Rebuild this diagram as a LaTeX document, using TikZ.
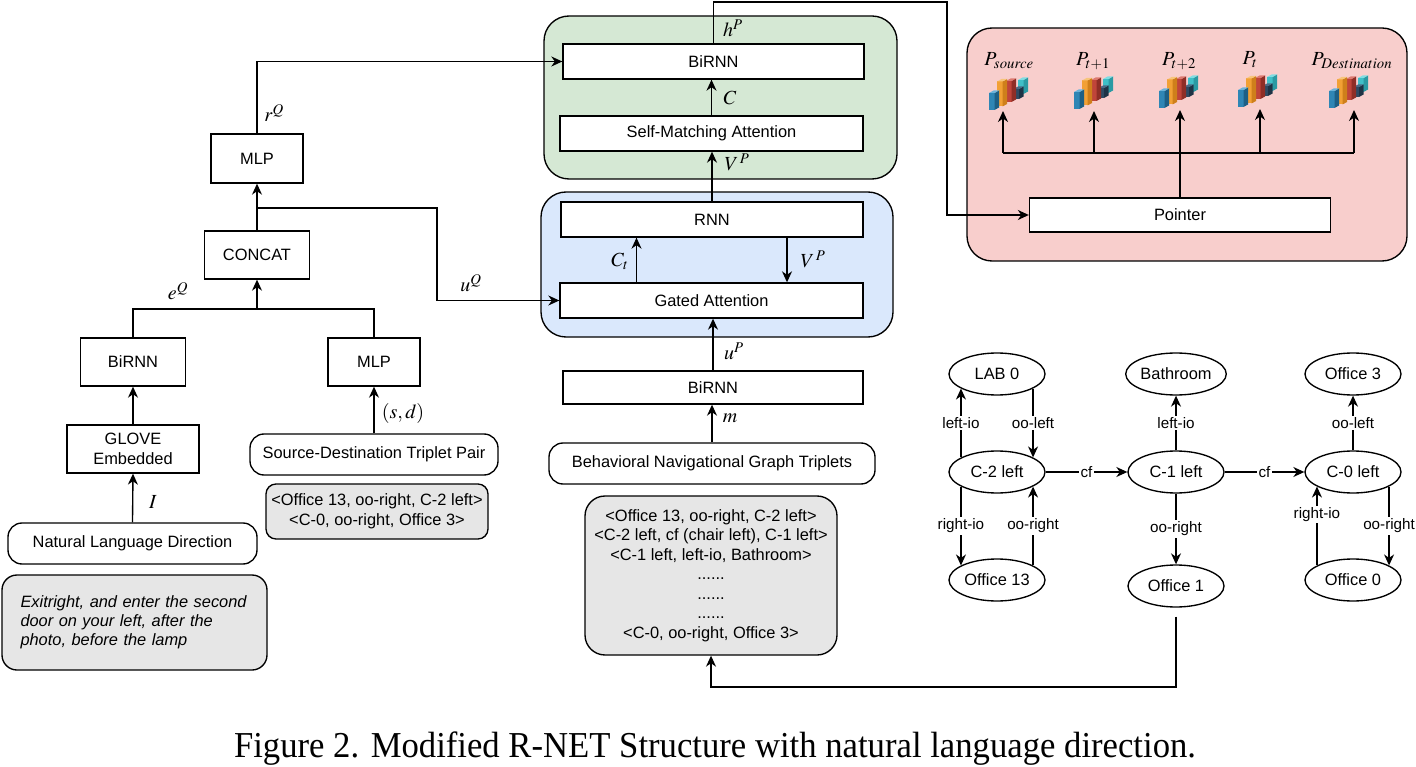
\documentclass[tikz,border=0pt]{standalone}
\usepackage{mathptmx}
\usepackage{fontspec}
\setmainfont{Liberation Sans}
\newfontfamily\capfont{Liberation Serif}
\usetikzlibrary{arrows.meta,shapes.geometric,calc}
\definecolor{gfill}{HTML}{D5E8D4}
\definecolor{bfill}{HTML}{DAE8FC}
\definecolor{pfill}{HTML}{F8CECC}
\definecolor{grayfill}{HTML}{E6E6E6}
\definecolor{tealF}{HTML}{3FBFC7}\definecolor{tealS}{HTML}{2A9AA3}\definecolor{tealT}{HTML}{7FDDE2}
\definecolor{navyF}{HTML}{2E4A62}\definecolor{navyS}{HTML}{1E3345}\definecolor{navyT}{HTML}{4A6A85}
\definecolor{redF}{HTML}{C0453A}\definecolor{redS}{HTML}{8F2E26}\definecolor{redT}{HTML}{DD7A70}
\definecolor{orF}{HTML}{F2A035}\definecolor{orS}{HTML}{CF7F1B}\definecolor{orT}{HTML}{F7C57A}
\definecolor{blF}{HTML}{2F86B5}\definecolor{blS}{HTML}{1D5F85}\definecolor{blT}{HTML}{6DB3D9}
\newcommand\icbar[6]{%
  \fill[#4] ({#1},{#2}) rectangle ({#1+5.5},{#2-#3});
  \fill[#5] ({#1+5.5},{#2}) -- ({#1+10},{#2-2.5}) -- ({#1+10},{#2-2.5-#3}) -- ({#1+5.5},{#2-#3}) -- cycle;
  \fill[#6] ({#1},{#2-#3}) -- ({#1+5.5},{#2-#3}) -- ({#1+10},{#2-#3-2.5}) -- ({#1+4.5},{#2-#3-2.5}) -- cycle;
}
\tikzset{
  every node/.style={font=\fontsize{16.4}{19.5}\selectfont},
  box/.style={draw, fill=white, line width=1.35pt, inner sep=0pt, align=center},
  rbox/.style={box, rounded corners=14pt},
  gbox/.style={draw, fill=grayfill, line width=1.35pt, inner sep=0pt, align=center},
  cont/.style={draw, line width=1.35pt, rounded corners=25pt, inner sep=0pt},
  ell/.style={draw, ellipse, line width=1.35pt, minimum width=96pt, minimum height=42pt, inner sep=0pt},
  arr/.style={line width=1.35pt, -{Stealth[length=11pt,width=10pt,inset=3.5pt]}},
  ln/.style={line width=1.35pt},
  lab/.style={font=\fontsize{20}{23}\selectfont, inner sep=0pt},
  plab/.style={font=\fontsize{20}{23}\selectfont, inner sep=0pt},
  elab/.style={font=\fontsize{15.2}{18}\selectfont, fill=white, inner sep=1.5pt},
  pics/barchart/.style={code={
    \icbar{29}{-18}{14}{tealF}{tealS}{tealT}
    \icbar{24.5}{-13}{10}{navyF}{navyS}{navyT}
    \icbar{17}{-10}{21}{redF}{redS}{redT}
    \icbar{8}{-5.5}{25}{orF}{orS}{orT}
    \icbar{0}{-2}{17}{blF}{blS}{blT}
  }}
}
\begin{document}
\begin{tikzpicture}[x=1pt,y=-1pt]
\useasboundingbox (0,0) rectangle (1416,767);
% containers
\node[cont, fill=gfill, minimum width=353pt, minimum height=163pt] (green) at (720.5,97.5) {};
\node[cont, fill=bfill, minimum width=352pt, minimum height=145pt] (blue) at (717,264.5) {};
\node[cont, fill=pfill, minimum width=440pt, minimum height=233pt] (pink) at (1187,144.5) {};
% left column
\node[gbox, rounded corners=15pt, minimum width=265pt, minimum height=95pt, text width=228pt, align=left, font=\fontsize{16.4}{19}\selectfont\itshape] (ital) at (134.5,622.5) {Exitright, and enter the second\\door on your left, after the\\photo, before the lamp};
\node[rbox, minimum width=249pt, minimum height=41pt] (nld) at (132.5,543.5) {Natural Language Direction};
\node[box, minimum width=132pt, minimum height=48pt] (glove) at (133,449) {GLOVE\\Embedded};
\node[box, minimum width=105pt, minimum height=48pt] (birnnL) at (133,362) {BiRNN};
\node[box, minimum width=92pt, minimum height=48pt] (mlpR) at (374,362) {MLP};
\node[rbox, minimum width=248pt, minimum height=41pt] (sdtp) at (374,454.5) {Source-Destination Triplet Pair};
\node[gbox, rounded corners=10pt, minimum width=222pt, minimum height=55pt, font=\fontsize{16.4}{20}\selectfont] (sdg) at (377,511.5) {<Office 13, oo-right, C-2 left>\\<C-0, oo-right, Office 3>};
\node[box, minimum width=105pt, minimum height=48pt] (concat) at (257,255) {CONCAT};
\node[box, minimum width=92pt, minimum height=49pt] (mlpT) at (257,158.5) {MLP};
% middle column
\node[box, minimum width=301pt, minimum height=35pt] (birnnT) at (713.5,61.5) {BiRNN};
\node[box, minimum width=303pt, minimum height=35pt] (selfm) at (711.5,133.5) {Self-Matching Attention};
\node[box, minimum width=302pt, minimum height=35pt] (rnn) at (712,219.5) {RNN};
\node[box, minimum width=303pt, minimum height=35pt] (gated) at (711.5,300.5) {Gated Attention};
\node[box, minimum width=300pt, minimum height=33pt] (birnnM) at (713,387.5) {BiRNN};
\node[rbox, minimum width=326pt, minimum height=41pt] (bngt) at (712,463.5) {Behavioral Navigational Graph Triplets};
\node[gbox, rounded corners=20pt, minimum width=252pt, minimum height=159pt] (trip) at (711,575.5) {<Office 13, oo-right, C-2 left>\\<C-2 left, cf (chair left), C-1 left>\\<C-1 left, left-io, Bathroom>\\......\\......\\......\\<C-0, oo-right, Office 3>};
% pointer
\node[box, minimum width=301pt, minimum height=34pt] (ptr) at (1180,215) {Pointer};
\pic at (989,112) {barchart};
\pic at (1074,111) {barchart};
\pic at (1159,110) {barchart};
\pic at (1238,109) {barchart};
\pic at (1329,110) {barchart};
\coordinate (ic1) at (1003,111);
\coordinate (ic2) at (1094,111);
\coordinate (ic3) at (1180,110);
\coordinate (ic4) at (1260,109);
\coordinate (ic5) at (1354,110);
\coordinate (jn) at (1180,153);
\node[plab] (l1) at (1009,61) {$P_{source}$};
\node[plab] (l2) at (1093,61) {$P_{t+1}$};
\node[plab] (l3) at (1179,61) {$P_{t+2}$};
\node[plab] (l4) at (1250,60) {$P_{t}$};
\node[plab] (l5) at (1352,61) {$P_{Destination}$};
\draw[ln] (ptr.north) -- (jn);
\draw[ln] (jn -| ic1) -- (jn -| ic5);
\draw[arr] (jn) -- (ic3);
\draw[arr] (jn -| ic1) -- (ic1);
\draw[arr] (jn -| ic2) -- (ic2);
\draw[arr] (jn -| ic4) -- (ic4);
\draw[arr] (jn -| ic5) -- (ic5);
% graph
\node[ell] (lab0) at (997,374) {LAB 0};
\node[ell] (c2) at (997,472) {C-2 left};
\node[ell] (o13) at (997,580) {Office 13};
\node[ell] (bath) at (1176,374) {Bathroom};
\node[ell] (c1) at (1176,472) {C-1 left};
\node[ell] (o1) at (1176,586) {Office 1};
\node[ell] (o3) at (1353,374) {Office 3};
\node[ell] (c0) at (1353,472) {C-0 left};
\node[ell] (o0) at (1353,580) {Office 0};
\draw[arr] (c2.158) -- node[elab] {left-io} (lab0.202);
\draw[arr] (lab0.338) -- node[elab] {oo-left} (c2.22);
\draw[arr] (c2.202) -- node[elab] {right-io} (o13.158);
\draw[arr] (o13.22) -- node[elab] {oo-right} (c2.338);
\draw[arr] (c2.east) -- node[elab] {cf} (c1.west);
\draw[arr] (c1.east) -- node[elab] {cf} (c0.west);
\draw[arr] (c1.north) -- node[elab] {left-io} (bath.south);
\draw[arr] (c1.south) -- node[elab] {oo-right} (o1.north);
\draw[arr] (c0.north) -- node[elab] {oo-left} (o3.south);
\draw[arr] (o0.158) -- node[elab, pos=0.65] {right-io} (c0.202);
\draw[arr] (c0.338) -- node[elab] {oo-right} (o0.22);
\coordinate (o1out) at ([yshift=-9pt]o1.south);
\coordinate (bot) at (711,687);
\draw[arr] (o1out) |- (bot) -- (trip.south);
% left connectors
\draw[arr] (nld.north) -- (glove.south);
\draw[arr] (glove.north) -- (birnnL.south);
\draw[arr] (sdtp.north) -- (mlpR.south);
\coordinate (jq) at (257,309);
\draw[ln] (birnnL.north) |- (jq) -| (mlpR.north);
\draw[arr] (jq) -- (concat.south);
\coordinate (br) at (257,208);
\coordinate (uq) at (437,208);
\draw[ln] (concat.north) -- (br);
\draw[arr] (br) -- (mlpT.south);
\draw[arr] (br) -- (uq) |- (gated.west);
\draw[arr] (mlpT.north) |- (birnnT.west);
% middle connectors
\draw[arr] (bngt.north) -- (bngt.north |- birnnM.south);
\draw[arr] (birnnM.north) -- (birnnM.north |- gated.south);
\draw[arr] ([xshift=-75pt]gated.north) -- ([xshift=-75pt]gated.north |- rnn.south);
\draw[arr] ([xshift=75pt]rnn.south) -- ([xshift=75pt]rnn.south |- gated.north);
\draw[arr] (rnn.north) -- (rnn.north |- selfm.south);
\draw[arr] (selfm.north) -- (selfm.north |- birnnT.south);
\coordinate (hpA) at (947,2);
\draw[arr] (birnnT.north) |- (hpA) |- (ptr.west);
% labels
\node[lab] (rq) at (274,113) {$r^{Q}$};
\node[lab] (uql) at (471,283) {$u^{Q}$};
\node[lab] (eq) at (178,291) {$e^{Q}$};
\node[lab] (sd) at (403,413) {$(s,d)$};
\node[lab] (il) at (153,502) {$I$};
\node[lab] (cl) at (730,98) {$C$};
\node[lab] (vp1) at (737,162) {$V^{\,P}$};
\node[lab] (ct) at (620,261) {$C_{t}$};
\node[lab] (vp2) at (813,259) {$V^{\,P}$};
\node[lab] (hp) at (733,28) {$h^{P}$};
\node[lab] (up) at (734,351) {$u^{P}$};
\node[lab] (ml) at (730,418) {$m$};
% caption
\node[anchor=base, inner sep=0pt, font=\capfont\fontsize{36.5}{40}\selectfont] (cap) at (715,757) {\scalebox{0.95}[1]{Figure 2. Modified R-NET Structure with natural language direction.}};
\end{tikzpicture}
\end{document}
